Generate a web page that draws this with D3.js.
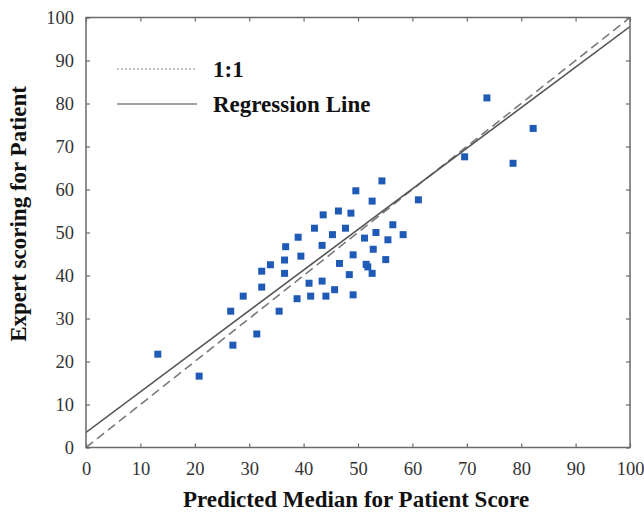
<!DOCTYPE html>
<html><head><meta charset="utf-8">
<script src="https://cdn.jsdelivr.net/npm/d3@7"></script>
<style>body{margin:0;background:#fff}svg{display:block}text{font-family:'Liberation Serif','Times New Roman',serif}</style>
</head><body>
<script>
const predicted = [13.2,20.8,26.6,27.0,28.9,31.4,32.3,32.3,33.9,35.5,36.5,36.5,36.7,38.8,39.0,39.5,41.0,41.3,42.0,43.4,43.4,44.1,45.3,45.7,46.6,47.7,48.4,49.1,49.1,51.2,51.5,51.8,52.6,52.8,53.3,55.5,55.1,56.4,58.3,54.4,49.6,52.6,46.4,48.7,43.6,61.1,69.6,73.7,78.5,82.2];
const expert = [21.7,16.6,31.7,23.8,35.2,26.4,41.0,37.3,42.5,31.7,43.6,40.5,46.7,34.6,48.9,44.5,38.2,35.2,51.0,47.0,38.7,35.2,49.5,36.7,42.8,51.0,40.2,44.8,35.5,48.7,42.6,42.0,40.5,46.1,50.0,48.3,43.7,51.8,49.5,62.0,59.7,57.3,55.0,54.5,54.1,57.6,67.6,81.3,66.1,74.2];
const ticks = [0,10,20,30,40,50,60,70,80,90,100];
const oneToOne = [[0,0],[100,100]];
const regression = [[0,3.5],[100,97.9]];
const legendItems = ["1:1","Regression Line"];

const W=644,H=518;
const svg=d3.select("body").append("svg").attr("width",W).attr("height",H);
const x=d3.scaleLinear().domain([0,100]).range([86,630]);
const y=d3.scaleLinear().domain([0,100]).range([447.5,17.5]);
const font="'Liberation Serif','Times New Roman',serif";

svg.append("clipPath").attr("id","plotclip").append("rect")
  .attr("x",x(0)).attr("y",y(100)).attr("width",x(100)-x(0)).attr("height",y(0)-y(100));

const g=svg.append("g").attr("clip-path","url(#plotclip)");
const line=d3.line().x(d=>x(d[0])).y(d=>y(d[1]));
g.append("path").attr("d",line(oneToOne)).attr("fill","none")
  .attr("stroke","#7a7a7a").attr("stroke-width",1.6).attr("stroke-dasharray","9,5");
g.append("path").attr("d",line(regression)).attr("fill","none")
  .attr("stroke","#555").attr("stroke-width",1.6);

const s=7;
g.selectAll("rect.pt").data(predicted.map((p,i)=>[p,expert[i]])).join("rect")
  .attr("class","pt").attr("x",d=>x(d[0])-s/2).attr("y",d=>y(d[1])-s/2)
  .attr("width",s).attr("height",s).attr("fill","#1f5bb6");

// frame
svg.append("rect").attr("x",x(0)).attr("y",y(100)).attr("width",x(100)-x(0)).attr("height",y(0)-y(100))
  .attr("fill","none").attr("stroke","#6a6a6a").attr("stroke-width",1.5);

// axes with inward ticks
const ax=(gen,tx,ty)=>svg.append("g").attr("transform",`translate(${tx},${ty})`).call(gen);
const axB=ax(d3.axisBottom(x).tickValues(ticks).tickSizeInner(-4).tickSizeOuter(0).tickPadding(14),0,y(0));
const axT=ax(d3.axisTop(x).tickValues(ticks).tickSizeInner(-4).tickSizeOuter(0).tickFormat(""),0,y(100));
const axL=ax(d3.axisLeft(y).tickValues(ticks).tickSizeInner(-4).tickSizeOuter(0).tickPadding(12),x(0),0);
const axR=ax(d3.axisRight(y).tickValues(ticks).tickSizeInner(-4).tickSizeOuter(0).tickFormat(""),x(100),0);
[axB,axT,axL,axR].forEach(a=>{
  a.attr("font-family",null).attr("font-size",null);
  a.select(".domain").remove();
  a.selectAll(".tick line").attr("stroke","#6a6a6a").attr("stroke-width",1.2);
  a.selectAll("text").style("font-family",font).style("font-size","18.5px").attr("fill","#333");
});

// titles
svg.append("text").attr("x",356).attr("y",507).attr("text-anchor","middle")
  .style("font-family",font).attr("font-weight","bold").style("font-size","23px").attr("fill","#111")
  .text("Predicted Median for Patient Score");
svg.append("text").attr("transform","translate(26,214) rotate(-90)").attr("text-anchor","middle")
  .style("font-family",font).attr("font-weight","bold").style("font-size","23px").attr("fill","#111")
  .text("Expert scoring for Patient");

// legend
const leg=svg.append("g");
const ly=[69,104];
leg.selectAll("line").data(legendItems).join("line")
  .attr("x1",117).attr("x2",197).attr("y1",(d,i)=>ly[i]).attr("y2",(d,i)=>ly[i])
  .attr("stroke",(d,i)=>i?"#444":"#888").attr("stroke-width",1.2)
  .attr("stroke-dasharray",(d,i)=>i?null:"2,2");
leg.selectAll("text").data(legendItems).join("text")
  .attr("x",213).attr("y",(d,i)=>ly[i]+8)
  .style("font-family",font).attr("font-weight","bold").style("font-size","23px").attr("fill","#111")
  .text(d=>d);
</script>
</body></html>
